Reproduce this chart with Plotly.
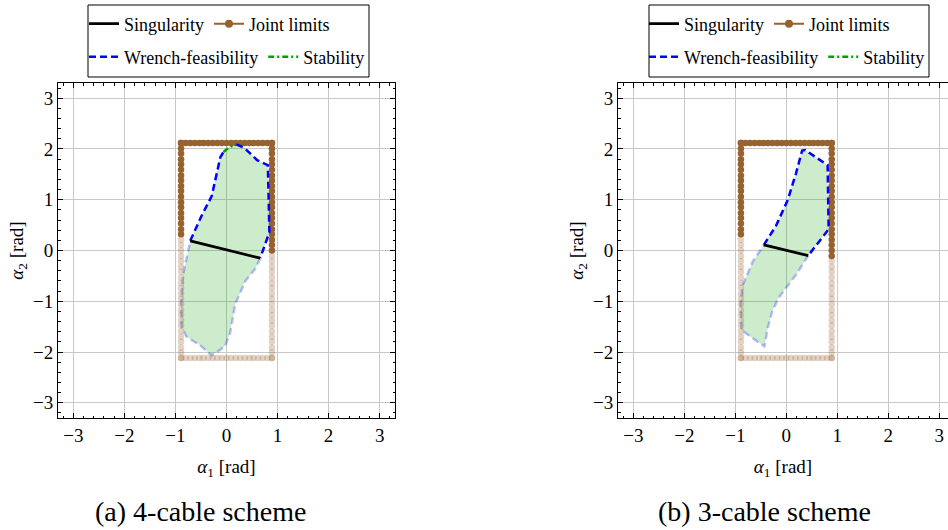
import plotly.graph_objects as go

# ---------------- data ----------------
# Joint-limit samples (rad)
JL_A1 = [-0.89, -0.8, -0.71, -0.62, -0.53, -0.45, -0.36, -0.27, -0.18, -0.09, 0.0,
         0.09, 0.18, 0.27, 0.36, 0.45, 0.53, 0.62, 0.71, 0.8, 0.89]
JL_A2 = [-2.12, -2.01, -1.91, -1.8, -1.7, -1.59, -1.48, -1.38, -1.27, -1.17, -1.06,
         -0.95, -0.85, -0.74, -0.64, -0.53, -0.42, -0.32, -0.21, -0.11, 0.0, 0.11,
         0.21, 0.32, 0.42, 0.53, 0.64, 0.74, 0.85, 0.95, 1.06, 1.17, 1.27, 1.38,
         1.48, 1.59, 1.7, 1.8, 1.91, 2.01, 2.12]
JL_MIN_A1, JL_MAX_A1 = -0.89, 0.89
JL_MIN_A2, JL_MAX_A2 = -2.12, 2.12

# (a) 4-cable scheme
SPLIT4_LEFT, SPLIT4_RIGHT = 0.26, -0.10
SING4_A1 = [-0.71, 0.66]
SING4_A2 = [0.19, -0.15]
WF4_UP_A1 = [-0.71, -0.49, -0.29, -0.12, -0.06]
WF4_UP_A2 = [0.19, 0.68, 1.07, 1.84, 1.94]
STAB4_A1 = [-0.06, 0.06, 0.19]
STAB4_A2 = [1.94, 2.04, 2.09]
WF4_RIGHT_A1 = [0.19, 0.34, 0.6, 0.81, 0.84, 0.66]
WF4_RIGHT_A2 = [2.09, 2.03, 1.78, 1.68, 0.36, -0.15]
WF4_LOW_A1 = [0.66, 0.57, 0.37, 0.17, 0.07, -0.03, -0.29, -0.49, -0.78, -0.88, -0.89, -0.85, -0.71]
WF4_LOW_A2 = [-0.15, -0.35, -0.6, -1.06, -1.63, -1.89, -2.07, -1.89, -1.7, -1.51, -1.06, -0.48, 0.19]

# (b) 3-cable scheme
SPLIT3_LEFT, SPLIT3_RIGHT = 0.24, -0.12
SING3_A1 = [-0.44, 0.43]
SING3_A2 = [0.11, -0.10]
WF3_UP_A1 = [-0.44, -0.2, 0.03, 0.19, 0.31, 0.37, 0.81, 0.83, 0.43]
WF3_UP_A2 = [0.11, 0.49, 1.0, 1.52, 1.97, 1.98, 1.68, 0.42, -0.10]
WF3_LOW_A1 = [0.43, 0.19, -0.15, -0.27, -0.36, -0.43, -0.88, -0.9, -0.85, -0.66, -0.44]
WF3_LOW_A2 = [-0.10, -0.48, -0.93, -1.18, -1.51, -1.89, -1.57, -1.06, -0.67, -0.22, 0.11]

TICKS = [-3, -2, -1, 0, 1, 2, 3]
TICK_TEXT = ["\u22123", "\u22122", "\u22121", "0", "1", "2", "3"]

# ---------------- styles ----------------
FONT = "Liberation Serif, DejaVu Serif, serif"
BROWN = "rgb(150,98,48)"
BROWN_F = "rgba(150,98,48,0.28)"
BLUE = "rgb(0,0,255)"
BLUE_F = "rgba(0,0,255,0.25)"
GREEN = "rgb(0,160,0)"
FILL = "rgba(0,160,0,0.2)"
DASH = "7px,4px"
DASHDOT = "6px,3px,2px,3px"


def joint_limit_paths(split_left, split_right):
    left_up = [a for a in JL_A2 if a >= split_left]
    right_up = [a for a in reversed(JL_A2) if a >= split_right]
    dark_x = [JL_MIN_A1] * len(left_up) + JL_A1 + [JL_MAX_A1] * len(right_up)
    dark_y = left_up + [JL_MAX_A2] * len(JL_A1) + right_up
    left_lo = [a for a in reversed(JL_A2) if a < split_left]
    right_lo = [a for a in JL_A2 if a < split_right]
    light_x = [JL_MIN_A1] * len(left_lo) + JL_A1 + [JL_MAX_A1] * len(right_lo)
    light_y = left_lo + [JL_MIN_A2] * len(JL_A1) + right_lo
    return dark_x, dark_y, light_x, light_y


fig = go.Figure()


def add_panel(xa, ya, split_l, split_r, fill_x, fill_y, dark_segs, stab, low, sing):
    fig.add_trace(go.Scatter(x=fill_x, y=fill_y, fill="toself", fillcolor=FILL,
                             mode="none", xaxis=xa, yaxis=ya, showlegend=False, hoverinfo="skip"))
    fig.add_trace(go.Scatter(x=low[0], y=low[1], mode="lines",
                             line=dict(color=BLUE_F, width=2.5, dash=DASH),
                             xaxis=xa, yaxis=ya, showlegend=False))
    dx, dy, lx, ly = joint_limit_paths(split_l, split_r)
    fig.add_trace(go.Scatter(x=lx, y=ly, mode="markers",
                             marker=dict(color=BROWN_F, size=6.5),
                             xaxis=xa, yaxis=ya, showlegend=False))
    fig.add_trace(go.Scatter(x=dx, y=dy, mode="markers",
                             marker=dict(color=BROWN, size=6.5),
                             xaxis=xa, yaxis=ya, showlegend=False))
    for sx, sy in dark_segs:
        fig.add_trace(go.Scatter(x=sx, y=sy, mode="lines",
                                 line=dict(color=BLUE, width=2.5, dash=DASH),
                                 xaxis=xa, yaxis=ya, showlegend=False))
    if stab is not None:
        fig.add_trace(go.Scatter(x=stab[0], y=stab[1], mode="lines",
                                 line=dict(color=GREEN, width=2.5, dash=DASHDOT),
                                 xaxis=xa, yaxis=ya, showlegend=False))
    fig.add_trace(go.Scatter(x=sing[0], y=sing[1], mode="lines",
                             line=dict(color="black", width=2.8),
                             xaxis=xa, yaxis=ya, showlegend=False))


add_panel("x", "y", SPLIT4_LEFT, SPLIT4_RIGHT,
          WF4_UP_A1 + STAB4_A1 + WF4_RIGHT_A1 + WF4_LOW_A1,
          WF4_UP_A2 + STAB4_A2 + WF4_RIGHT_A2 + WF4_LOW_A2,
          [(WF4_UP_A1, WF4_UP_A2), (WF4_RIGHT_A1, WF4_RIGHT_A2)],
          (STAB4_A1, STAB4_A2), (WF4_LOW_A1, WF4_LOW_A2), (SING4_A1, SING4_A2))
add_panel("x2", "y2", SPLIT3_LEFT, SPLIT3_RIGHT,
          WF3_UP_A1 + WF3_LOW_A1, WF3_UP_A2 + WF3_LOW_A2,
          [(WF3_UP_A1, WF3_UP_A2)], None,
          (WF3_LOW_A1, WF3_LOW_A2), (SING3_A1, SING3_A2))

# legend-entry traces
def legend_entry(name, legend, **kw):
    fig.add_trace(go.Scatter(x=[None], y=[None], name=name, legend=legend,
                             xaxis="x", yaxis="y", **kw))

for row1, row2 in (("legend", "legend2"), ("legend3", "legend4")):
    legend_entry("Singularity", row1, mode="lines", line=dict(color="black", width=2.8))
    legend_entry("Joint limits", row1, mode="lines+markers",
                 line=dict(color=BROWN, width=2), marker=dict(color=BROWN, size=8))
    legend_entry("Wrench-feasibility", row2, mode="lines",
                 line=dict(color=BLUE, width=2.5, dash=DASH))
    legend_entry("Stability", row2, mode="lines",
                 line=dict(color=GREEN, width=2.5, dash=DASHDOT))

W, H = 948, 530


def px_x(p):
    return p / W


def px_y(p):
    return 1 - p / H


axis_common = dict(
    tickmode="array", tickvals=TICKS, ticktext=TICK_TEXT,
    showgrid=True, gridcolor="rgb(200,200,200)", gridwidth=1, zeroline=False,
    showline=True, linecolor="black", linewidth=1,
    ticks="inside", ticklen=5, tickcolor="black", tickwidth=1,
    minor=dict(dtick=0.2, tick0=0, ticks="inside", ticklen=2.5, tickcolor="black",
               showgrid=False),
    tickfont=dict(family=FONT, size=19, color="black"),
    automargin=False,
)

title_font = dict(family=FONT, size=19, color="black")

fig.update_layout(
    width=W, height=H,
    margin=dict(l=0, r=0, t=0, b=0),
    paper_bgcolor="white", plot_bgcolor="white",
    font=dict(family=FONT, color="black"),
    xaxis=dict(axis_common, domain=[px_x(58), px_x(395)], range=[-3.3, 3.3],
               mirror="allticks", anchor="y",
               title=dict(text="<i>α</i><sub>1</sub> [rad]", font=title_font, standoff=14)),
    yaxis=dict(axis_common, domain=[px_y(418), px_y(83)], range=[-3.3, 3.3],
               mirror="allticks", anchor="x",
               title=dict(text="<i>α</i><sub>2</sub> [rad]", font=title_font, standoff=4)),
    xaxis2=dict(axis_common, domain=[px_x(618), 1.0], range=[-3.3, 3.17],
                mirror="allticks", anchor="y2",
                title=dict(text="<i>α</i><sub>1</sub> [rad]", font=title_font, standoff=14)),
    yaxis2=dict(axis_common, domain=[px_y(418), px_y(83)], range=[-3.3, 3.3],
                mirror=False, anchor="x2",
                title=dict(text="<i>α</i><sub>2</sub> [rad]", font=title_font, standoff=4)),
    showlegend=True,
)

leg_common = dict(orientation="h", xanchor="left", yanchor="middle",
                  bgcolor="rgba(0,0,0,0)", borderwidth=0,
                  font=dict(family=FONT, size=18, color="black"),
                  itemwidth=30, traceorder="normal", itemclick=False, itemdoubleclick=False)
fig.update_layout(
    legend=dict(leg_common, x=px_x(84), y=px_y(24)),
    legend2=dict(leg_common, x=px_x(84), y=px_y(57)),
    legend3=dict(leg_common, x=px_x(644), y=px_y(24)),
    legend4=dict(leg_common, x=px_x(644), y=px_y(57)),
)

for x0, x1 in ((88, 369), (649, 929)):
    fig.add_shape(type="rect", xref="paper", yref="paper",
                  x0=px_x(x0), x1=px_x(x1), y0=px_y(77), y1=px_y(5),
                  line=dict(color="black", width=1), fillcolor="rgba(0,0,0,0)")

for text, cx in (("(a) 4-cable scheme", 200), ("(b) 3-cable scheme", 764)):
    fig.add_annotation(text=text, xref="paper", yref="paper", x=px_x(cx), y=px_y(511),
                       xanchor="center", yanchor="middle", showarrow=False,
                       font=dict(family=FONT, size=28, color="black"))

fig.write_html("out.html", config={"displayModeBar": False},
               post_script="document.body.style.margin='0';document.body.style.overflow='hidden';")
